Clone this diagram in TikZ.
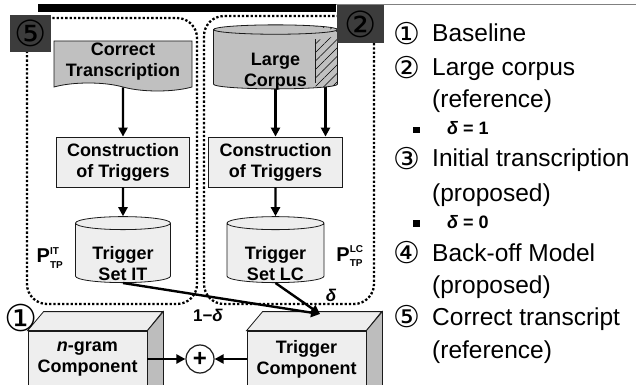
\documentclass[tikz,border=0pt]{standalone}
\usepackage{amsmath}
\usepackage{fontspec}
\setmainfont{Liberation Sans}
\newfontfamily\circfont{DejaVu Sans}
\usepackage{xcolor}
\definecolor{clBox}{HTML}{EEEEEE}
\definecolor{clDoc}{HTML}{C0C0C0}
\definecolor{clSide}{HTML}{BDBDBD}
\definecolor{clTag}{HTML}{3C3C3C}
\definecolor{clLine}{HTML}{1A1A1A}
\usepackage{tikz}
\usetikzlibrary{arrows.meta,positioning,calc,shapes.geometric,shapes.symbols,backgrounds,patterns.meta}
\newcommand{\dvar}{\textbf{\textit{δ}}}
\newcommand{\legnum}[1]{\makebox[39pt][l]{\raisebox{-2.5pt}[0pt][0pt]{\circfont\fontsize{30}{30}\selectfont #1}}}
\newcommand{\lowtext}[1]{\raisebox{-16.5pt}[0pt][0pt]{\begin{tabular}{@{}c@{}}#1\end{tabular}}}
\newcommand{\legbullet}{\raisebox{1.5pt}{\rule{6.5pt}{6.5pt}}\hspace{27.5pt}}
\tikzset{
  box/.style={draw=clLine, line width=0.8pt, align=center, inner sep=2pt,
              font=\fontsize{18}{21}\selectfont\bfseries},
  build/.style={box, rectangle, fill=clBox, minimum width=133pt, minimum height=50pt},
  doc/.style={box, tape, tape bend top=none, tape bend bottom=out and in,
              tape bend height=8pt, fill=clDoc, minimum width=138pt, minimum height=50pt},
  store/.style={box, cylinder, shape border rotate=90, aspect=0.2, fill=clBox},
  cubefront/.style={box, rectangle, fill=clBox, minimum width=119pt, minimum height=56pt},
  cubetop/.style={draw=clLine, line width=0.8pt, fill=clBox},
  cubeside/.style={draw=clLine, line width=0.8pt, fill=clSide},
  group/.style={line width=2.3pt, dash pattern=on 2.3pt off 2pt, rounded corners=20pt},
  tag/.style={fill=clTag, inner sep=0pt, font=\circfont\fontsize{36}{36}\selectfont},
  flow/.style={-{Triangle[length=9pt,width=9pt]}, line width=2.4pt},
  flowlabel/.style={font=\fontsize{17}{17}\selectfont\bfseries, inner sep=0pt},
  plabel/.style={font=\fontsize{20}{20}\selectfont, inner sep=0pt},
  legend/.style={anchor=base west, inner sep=0pt, font=\fontsize{24.5}{28}\selectfont},
  sublegend/.style={anchor=base west, inner sep=0pt, font=\fontsize{18}{18}\selectfont\bfseries},
}
\begin{document}
\begin{tikzpicture}[x=1pt, y=1pt]
  \useasboundingbox (0,0) rectangle (643,-385);
  % title rule
  \fill (38,-4) rectangle (336,-12);
  \draw[gray, line width=0.8pt] (336,-4.5) -- (636,-4.5);

  % dotted groups
  \draw[group] (27,-18) rectangle (197,-304);
  \draw[group] (204,-16) rectangle (374,-304);

  % left column: correct transcription
  \node[doc] (correct) at (123,-62) {Correct\\Transcription};
  \node[build] (itbuild) at (123,-162) {Construction\\of Triggers};
  \node[store, minimum width=95pt, minimum height=66pt] (itset) at (123,-254) {\lowtext{Trigger\\Set IT}};
  \draw[flow] (correct) -- (itbuild);
  \draw[flow] (itbuild) -- (itset);

  % right column: large corpus
  \node[store, aspect=0.14, minimum width=124pt, minimum height=64pt, fill=clDoc,
        path picture={
          \fill[pattern={Lines[angle=45, distance=6pt, line width=0.6pt]}]
            ([xshift=-22pt]path picture bounding box.north east)
            rectangle (path picture bounding box.south east);
          \fill[clDoc] ([yshift=-8.5pt]path picture bounding box.north)
            ellipse [x radius=62pt, y radius=8.5pt];
          \draw[clLine, line width=0.8pt]
            ([xshift=-22pt, yshift=-14.5pt]path picture bounding box.north east)
            -- ([xshift=-22pt, yshift=6pt]path picture bounding box.south east);
        }] (corpus) at (275.5,-60) {\lowtext{Large\\Corpus}};
  \node[build, minimum width=134pt] (lcbuild) at (275.5,-162) {Construction\\of Triggers};
  \node[store, minimum width=97pt, minimum height=66pt] (lcset) at (275.5,-254) {\lowtext{Trigger\\Set LC}};
  \begin{scope}[on background layer]
    \draw[flow] (corpus.center) -- (lcbuild.north);
    \draw[flow] ([xshift=50pt]corpus.center) -- ([xshift=50pt]lcbuild.north);
  \end{scope}
  \draw[flow] (lcbuild) -- (lcset);

  \node[plabel] (pit) at (50,-258) {$\textbf{P}^{\scriptscriptstyle\textbf{IT}}_{\scriptscriptstyle\textbf{TP}}$};
  \node[plabel] (plc) at (350,-256) {$\textbf{P}^{\scriptscriptstyle\textbf{LC}}_{\scriptscriptstyle\textbf{TP}}$};

  % group tags
  \node[tag, minimum width=41pt, minimum height=37pt] (tagfive) at (30.5,-33.5) {⑤};
  \node[tag, minimum width=47pt, minimum height=38pt] (tagtwo) at (360.5,-24) {②};

  % components
  \node[cubefront] (ngram) at (87.5,-359) {\textit{n}-gram\\Component};
  \filldraw[cubetop] (ngram.north west) -- ++(16,19) -- ++(119,0) -- (ngram.north east) -- cycle;
  \filldraw[cubeside] (ngram.north east) -- ++(16,19) -- ++(0,-75) -- (ngram.south east) -- cycle;
  \node[cubefront] (trigcomp) at (306.5,-359) {Trigger\\Component};
  \filldraw[cubetop] (trigcomp.north west) -- ++(16,19) -- ++(119,0) -- (trigcomp.north east) -- cycle;
  \filldraw[cubeside] (trigcomp.north east) -- ++(16,19) -- ++(0,-75) -- (trigcomp.south east) -- cycle;
  \node[font=\circfont\fontsize{37}{37}\selectfont, inner sep=0pt] (tagone) at (21,-318) {①};

  \node[circle, draw=clLine, line width=1.2pt, fill=white, minimum size=28pt, inner sep=0pt,
        font=\fontsize{24}{24}\selectfont\bfseries] (plus) at (200,-359) {+};
  \draw[flow] (ngram.east) -- (plus.west);
  \draw[flow] (trigcomp.west) -- (plus.east);

  \coordinate (tip) at (320,-314);
  \draw[flow] (itset.south) -- (tip);
  \draw[flow] (lcset.south) -- (tip);
  \node[flowlabel] (wit) at (208,-315) {1−\dvar};
  \node[flowlabel] (wlc) at (331,-295) {\dvar};

  % legend
  \node[legend] (leg1) at (393,-42) {\legnum{①}Baseline};
  \node[legend] (leg2) at (393,-76) {\legnum{②}Large corpus};
  \node[legend] (leg2b) at (432,-108) {(reference)};
  \node[sublegend] (leg2c) at (413,-135) {\legbullet\dvar\ = 1};
  \node[legend] (leg3) at (393,-167) {\legnum{③}Initial transcription};
  \node[legend] (leg3b) at (432,-201) {(proposed)};
  \node[sublegend] (leg3c) at (413,-228) {\legbullet\dvar\ = 0};
  \node[legend] (leg4) at (393,-261) {\legnum{④}Back-off Model};
  \node[legend] (leg4b) at (432,-293) {(proposed)};
  \node[legend] (leg5) at (393,-325) {\legnum{⑤}Correct transcript};
  \node[legend] (leg5b) at (432,-358) {(reference)};
\end{tikzpicture}
\end{document}
